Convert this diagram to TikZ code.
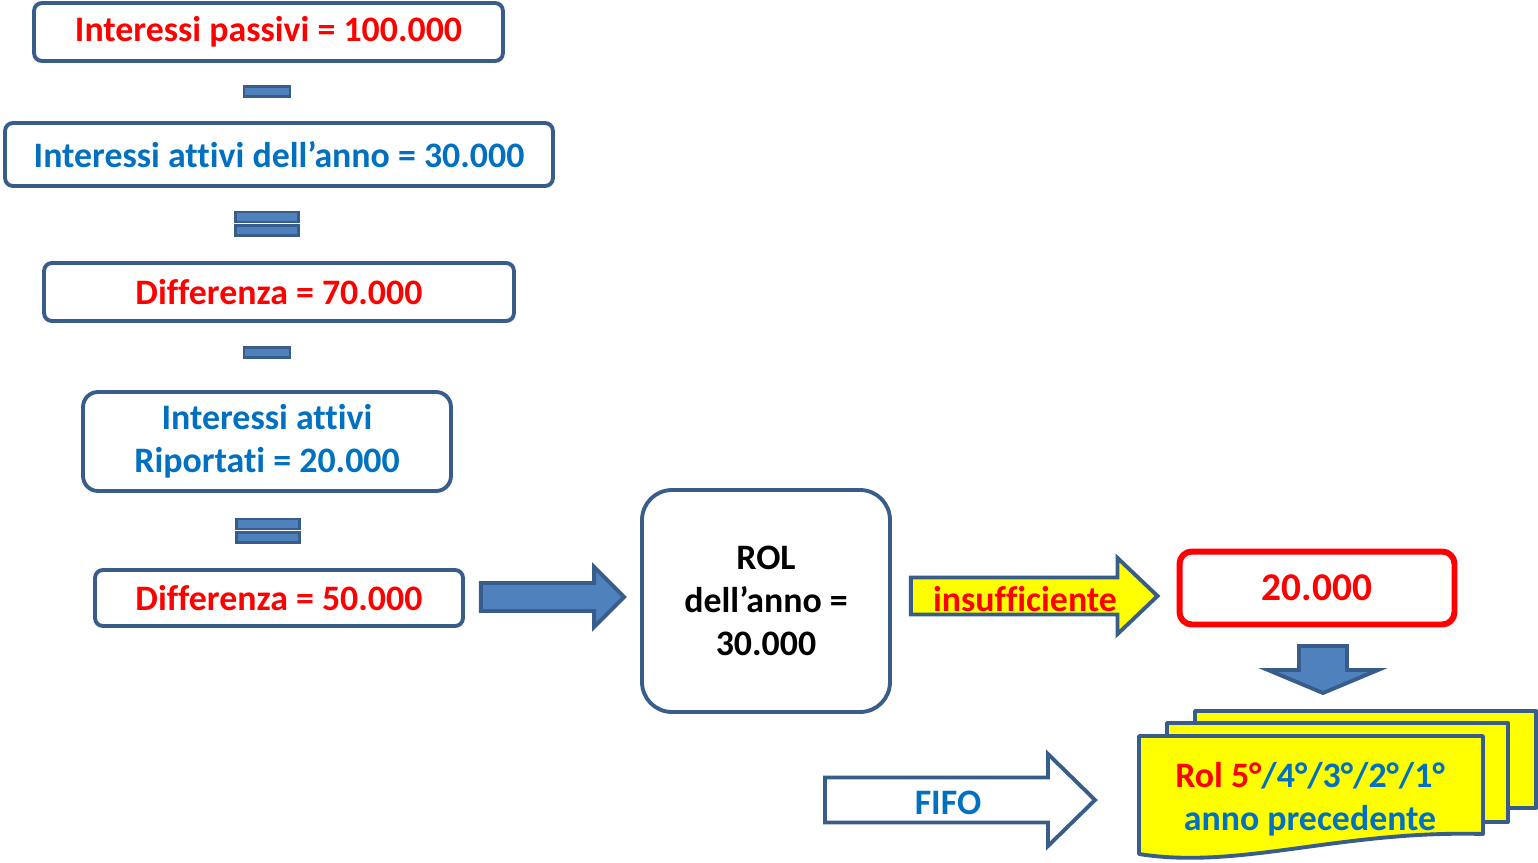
\documentclass[tikz,border=0pt]{standalone}
\usepackage{fontspec}
\setmainfont[Ligatures={TeX,NoCommon}]{Carlito}
\usepackage{tikz}
\usetikzlibrary{positioning}
\usetikzlibrary{calc}
\definecolor{rosso}{RGB}{255,0,0}
\definecolor{giallo}{RGB}{255,255,0}
\definecolor{azzurro}{RGB}{0,112,192}
\definecolor{bordo}{RGB}{56,93,138}
\definecolor{pieno}{RGB}{79,129,189}
\tikzset{
  schema/.style={
    x=0.02cm, y=-0.02cm,
    font={\fontsize{20.4}{24.5}\selectfont\bfseries},
    voce/.style={rectangle, rounded corners=4.5pt, draw=bordo, line width=2.2pt, fill=white, align=center, inner sep=0pt},
    segno/.style={rectangle, draw=bordo, fill=pieno, line width=1.5pt, inner sep=0pt},
    freccia/.style={draw=bordo, line width=2.2pt, line join=miter},
    pagina/.style={draw=bordo, line width=2.2pt, fill=giallo, line join=round},
  }
}
% freccia piena: #2 coda, #3 punta, #4 mezzo fusto, #5 mezza testa, #6 lunghezza testa
\newcommand{\frecciablocco}[6][]{
    \path[freccia,#1] ($(#2)+(0,-#4)$) -- ($(#3)+(-#6,-#4)$) -- ($(#3)+(-#6,-#5)$)
        -- (#3) -- ($(#3)+(-#6,#5)$) -- ($(#3)+(-#6,#4)$) -- ($(#2)+(0,#4)$) -- cycle;
}

\begin{document}
\begin{tikzpicture}[schema]
    \useasboundingbox (0,0) rectangle (1538,862);

    \node[voce, text=rosso, minimum width=9.38cm, minimum height=1.16cm] (passivi) at (268.5,32) {Interessi passivi = 100.000};
    \node[segno, minimum width=0.92cm, minimum height=0.2cm] (meno1) at (267,91.5) {};
    \node[voce, text=azzurro, minimum width=10.96cm, minimum height=1.26cm] (attivi) at (279,154.5) {Interessi attivi dell’anno = 30.000};
    \node[segno, minimum width=1.27cm, minimum height=0.2cm] (uguale1a) at (267,217) {};
    \node[segno, minimum width=1.27cm, minimum height=0.2cm] (uguale1b) at (267,230.5) {};
    \node[voce, text=rosso, minimum width=9.4cm, minimum height=1.16cm] (diff1) at (279,292) {Differenza = 70.000};
    \node[segno, minimum width=0.92cm, minimum height=0.2cm] (meno2) at (267,352.5) {};
    \node[voce, text=azzurro, rounded corners=8.5pt, minimum width=7.36cm, minimum height=1.98cm] (riportati) at (267,441.5) {Interessi attivi\\Riportati = 20.000};
    \node[segno, minimum width=1.27cm, minimum height=0.2cm] (uguale2a) at (268,524) {};
    \node[segno, minimum width=1.27cm, minimum height=0.2cm] (uguale2b) at (268,537.5) {};
    \node[voce, text=rosso, minimum width=7.36cm, minimum height=1.12cm] (diff2) at (279,598) {Differenza = 50.000};

    \node[voce, text=black, rounded corners=17pt, minimum width=4.96cm, minimum height=4.44cm] (rol) at (766,601) {ROL\\dell’anno =\\30.000};
    \node[voce, draw=rosso, text=rosso, line width=3.4pt, rounded corners=7pt, minimum width=5.5cm, minimum height=1.46cm,
        font={\fontsize{22.4}{26}\selectfont\bfseries}] (eccedenza) at (1317,588) {20.000};

    \coordinate (f1) at ($(diff2.east)+(16,-1)$);
    \frecciablocco[fill=pieno]{f1}{$(f1 -| rol.west)+(-16,0)$}{14}{30}{30}

    \coordinate (f2) at ($(rol.east)+(19,-5)$);
    \frecciablocco[fill=giallo]{f2}{$(f2 -| eccedenza.west)+(-19,0)$}{18.5}{38}{40}
    \node[text=rosso] (insuff) at (1025,599) {insufficiente};

    \path[freccia, fill=pieno] ($(eccedenza.south)+(-18,18.5)$) -- ++(48,0) -- ++(0,24) -- ++(31,0)
        -- ++(-55,23) -- ++(-55,-23) -- ++(31,0) -- cycle;

    \path[pagina] (1195,711) rectangle (1536,808);
    \path[pagina] (1167,723) rectangle (1508,822);
    \path[pagina] (1139,736) -- (1483,736) -- (1483,834) .. controls (1340,830) and (1240,870) .. (1139,854) -- cycle;
    \node[align=center, text=azzurro] (anni) at (1310,799) {{\color{rosso}Rol 5°}/4°/3°/2°/1°\\anno precedente};

    \coordinate (fifo) at (825,800);
    \coordinate (pila) at (1139,800);
    \frecciablocco[fill=white]{fifo}{$(pila)+(-44,0)$}{22.5}{46}{47}
    \node[text=azzurro] (fifotesto) at (948,803) {FIFO};
\end{tikzpicture}
\end{document}
